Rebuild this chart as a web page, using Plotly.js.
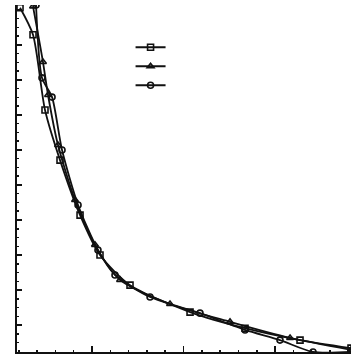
<!DOCTYPE html>
<html><head><meta charset="utf-8">
<script src="https://cdn.plot.ly/plotly-3.0.1.min.js"></script>
<style>html,body{margin:0;padding:0;background:#fff}#chart{width:351px;height:358px}</style>
</head><body><div id="chart"></div>
<script>
// series 1 (square markers)
const x1 = [0.213, 0.355, 0.486, 0.650, 0.869, 1.087, 1.415, 2.071, 2.672, 3.273, 3.83];
const y1 = [10.06, 9.29, 7.14, 5.71, 4.14, 3.00, 2.14, 1.37, 0.91, 0.57, 0.34];
// series 2 (triangle markers)
const x2 = [0.355, 0.464, 0.519, 0.628, 0.814, 1.032, 1.306, 1.852, 2.508, 3.164, 3.83];
const y2 = [10.10, 8.51, 7.57, 6.14, 4.57, 3.29, 2.29, 1.60, 1.09, 0.63, 0.29];
// series 3 (circle markers)
const x3 = [0.388, 0.453, 0.563, 0.672, 0.847, 1.065, 1.251, 1.634, 2.18, 2.672, 3.054, 3.415, 3.83];
const y3 = [10.14, 8.06, 7.51, 6.00, 4.43, 3.14, 2.43, 1.80, 1.34, 0.86, 0.57, 0.23, 0.23];
const names = [" ", "  ", "   "];
const symbols = ["square-open", "triangle-up-open", "circle-open"];

const xs = [x1, x2, x3], ys = [y1, y2, y3];
const traces = xs.map((x, i) => ({
  x: x, y: ys[i], name: names[i], type: "scatter", mode: "lines+markers",
  line: {color: "#111", width: 1.8, shape: "spline", smoothing: 0.7},
  marker: {symbol: symbols[i], size: 6, color: "#111", line: {color: "#111", width: 1.6}},
  cliponaxis: true
}));

const layout = {
  width: 351, height: 358,
  margin: {l: 17, r: 0, t: 5, b: 6},
  paper_bgcolor: "#fff", plot_bgcolor: "#fff",
  showlegend: true,
  legend: {x: 0.34, y: 0.92, xanchor: "left", yanchor: "top", bgcolor: "rgba(0,0,0,0)",
           font: {size: 7, family: "DejaVu Sans"}, itemwidth: 30, tracegroupgap: 0},
  xaxis: {range: [0.18, 3.83], showline: true, linecolor: "#111", linewidth: 2,
          ticks: "inside", ticklen: 6, tickwidth: 1.5, tickcolor: "#111",
          tickvals: [1, 2, 3], showticklabels: false, showgrid: false, zeroline: false,
          minor: {ticks: "inside", ticklen: 2, dtick: 0.2, tick0: 0, tickcolor: "#111", showgrid: false}},
  yaxis: {range: [0.23, 10.14], showline: true, linecolor: "#111", linewidth: 2,
          ticks: "inside", ticklen: 5, tickwidth: 1.5, tickcolor: "#111",
          tick0: 0, dtick: 1, showticklabels: false, showgrid: false, zeroline: false,
          minor: {ticks: "inside", ticklen: 2, dtick: 0.25, tick0: 0, tickcolor: "#111", showgrid: false}}
};
Plotly.newPlot("chart", traces, layout, {staticPlot: true, displayModeBar: false});
</script></body></html>
